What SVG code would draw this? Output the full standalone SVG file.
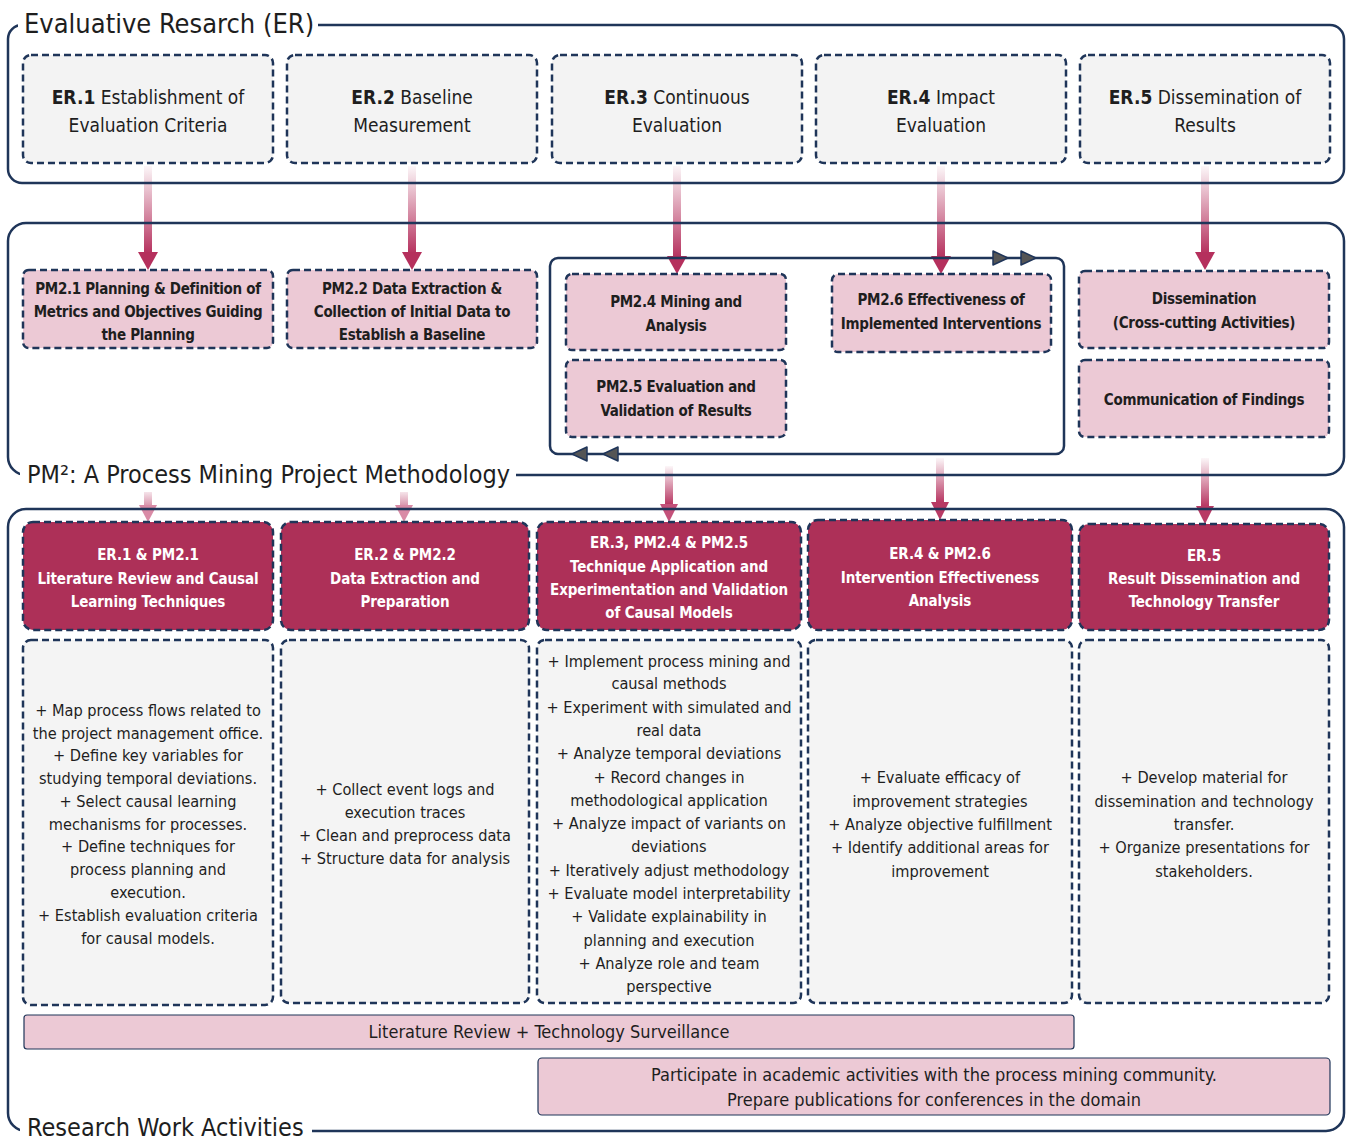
<svg xmlns="http://www.w3.org/2000/svg" width="1349" height="1140" viewBox="0 0 1349 1140">
<style>
text{font-family:"Liberation Sans Narrow","DejaVu Sans Condensed",Roboto,sans-serif;font-stretch:condensed;fill:#1e1e1e;text-anchor:middle}
.title{font-size:27px;text-anchor:start}
.title2{font-size:25px;text-anchor:start}
.frame{fill:none;stroke:#1f3559;stroke-width:2.5}
.box{stroke:#1f3559;stroke-width:2.5;stroke-dasharray:7 4}
.er{fill:#f3f3f3}
.pm{fill:#ecc9d5}
.hd{fill:#ad3058}
.dt{fill:#f4f4f4}
.bar{fill:#ecc9d5;stroke:#1f3559;stroke-width:1.2}
.t21{font-size:19px}
.pmt{font-size:15px;font-weight:bold;letter-spacing:-0.3px}
.hdt{font-size:15px;font-weight:bold;fill:#ffffff;letter-spacing:-0.1px}
.dtt{font-size:16.2px}
.bt{font-size:18px}
.b{font-weight:bold}
.tri{fill:#555555;stroke:#1f3559;stroke-width:1.5;stroke-linejoin:round}
</style>
<defs>
<linearGradient id="fade" x1="0" y1="0" x2="0" y2="1">
<stop offset="0" stop-color="#b5305d" stop-opacity="0.04"/>
<stop offset="1" stop-color="#b5305d" stop-opacity="1"/>
</linearGradient>
<linearGradient id="fadeL" x1="0" y1="0" x2="0" y2="1">
<stop offset="0" stop-color="#b5305d" stop-opacity="0.02"/>
<stop offset="1" stop-color="#b5305d" stop-opacity="0.55"/>
</linearGradient>
</defs>
<rect width="1349" height="1140" fill="#ffffff"/>

<g id="connectors">
<rect x="144" y="166" width="8" height="88" fill="url(#fade)"/><polygon points="138,252 158,252 148,270" fill="#b5305d"/>
<rect x="408" y="166" width="8" height="88" fill="url(#fade)"/><polygon points="402,252 422,252 412,270" fill="#b5305d"/>
<rect x="673" y="166" width="8" height="92" fill="url(#fade)"/><polygon points="667,256 687,256 677,274" fill="#b5305d"/>
<rect x="937" y="166" width="8" height="92" fill="url(#fade)"/><polygon points="931,256 951,256 941,274" fill="#b5305d"/>
<rect x="1201" y="166" width="8" height="88" fill="url(#fade)"/><polygon points="1195,252 1215,252 1205,270" fill="#b5305d"/>

<rect x="144" y="488" width="8" height="19" fill="url(#fadeL)"/><polygon points="139,505 157,505 148,522" fill="#d98ba6"/>
<rect x="400" y="488" width="8" height="19" fill="url(#fadeL)"/><polygon points="395,505 413,505 404,522" fill="#d98ba6"/>
<rect x="665" y="466" width="8" height="40" fill="url(#fade)"/><polygon points="660,504 678,504 669,522" fill="#c4517a"/>
<rect x="936" y="458" width="8" height="46" fill="url(#fade)"/><polygon points="931,502 949,502 940,520" fill="#b83a64"/>
<rect x="1201" y="458" width="8" height="50" fill="url(#fade)"/><polygon points="1196,506 1214,506 1205,524" fill="#b83a64"/>

<rect x="550" y="258" width="514" height="196" rx="8" class="frame"/>
<polygon class="tri" points="993,251 993,265 1008,258"/>
<polygon class="tri" points="1021,251 1021,265 1036,258"/>
<polygon class="tri" points="587,447 587,461 572,454"/>
<polygon class="tri" points="618,447 618,461 603,454"/>
</g>

<g id="frames">
<rect x="8" y="25" width="1336" height="158" rx="14" class="frame"/>
<rect x="18" y="6" width="300" height="36" fill="#ffffff"/>
<text class="title" x="24" y="33">Evaluative Resarch (ER)</text>
<rect x="8" y="223" width="1336" height="252" rx="18" class="frame"/>
<rect x="20" y="458" width="496" height="34" fill="#ffffff"/>
<text class="title2" x="27" y="483">PM²: A Process Mining Project Methodology</text>
<rect x="8" y="509" width="1336" height="622" rx="18" class="frame"/>
<rect x="20" y="1114" width="292" height="26" fill="#ffffff"/>
<text class="title2" x="27" y="1136">Research Work Activities</text>
</g>

<g id="er1"><rect x="23" y="55" width="250" height="108" rx="8" class="box er"/><text class="t21" x="148" y="104"><tspan class="b">ER.1</tspan> Establishment of</text><text class="t21" x="148" y="132">Evaluation Criteria</text></g>
<g id="er2"><rect x="287" y="55" width="250" height="108" rx="8" class="box er"/><text class="t21" x="412" y="104"><tspan class="b">ER.2</tspan> Baseline</text><text class="t21" x="412" y="132">Measurement</text></g>
<g id="er3"><rect x="552" y="55" width="250" height="108" rx="8" class="box er"/><text class="t21" x="677" y="104"><tspan class="b">ER.3</tspan> Continuous</text><text class="t21" x="677" y="132">Evaluation</text></g>
<g id="er4"><rect x="816" y="55" width="250" height="108" rx="8" class="box er"/><text class="t21" x="941" y="104"><tspan class="b">ER.4</tspan> Impact</text><text class="t21" x="941" y="132">Evaluation</text></g>
<g id="er5"><rect x="1080" y="55" width="250" height="108" rx="8" class="box er"/><text class="t21" x="1205" y="104"><tspan class="b">ER.5</tspan> Dissemination of</text><text class="t21" x="1205" y="132">Results</text></g>

<g id="pm21"><rect x="23" y="270" width="250" height="78" rx="6" class="box pm"/><text class="pmt" x="148" y="294">PM2.1 Planning &amp; Definition of</text><text class="pmt" x="148" y="317">Metrics and Objectives Guiding</text><text class="pmt" x="148" y="340">the Planning</text></g>
<g id="pm22"><rect x="287" y="270" width="250" height="78" rx="6" class="box pm"/><text class="pmt" x="412" y="294">PM2.2 Data Extraction &amp;</text><text class="pmt" x="412" y="317">Collection of Initial Data to</text><text class="pmt" x="412" y="340">Establish a Baseline</text></g>
<g id="pm24"><rect x="566" y="274" width="220" height="76" rx="6" class="box pm"/><text class="pmt" x="676" y="307">PM2.4 Mining and</text><text class="pmt" x="676" y="331">Analysis</text></g>
<g id="pm25"><rect x="566" y="360" width="220" height="77" rx="6" class="box pm"/><text class="pmt" x="676" y="392">PM2.5 Evaluation and</text><text class="pmt" x="676" y="416">Validation of Results</text></g>
<g id="pm26"><rect x="832" y="274" width="219" height="78" rx="6" class="box pm"/><text class="pmt" x="941" y="305">PM2.6 Effectiveness of</text><text class="pmt" x="941" y="329">Implemented Interventions</text></g>
<g id="diss"><rect x="1079" y="271" width="250" height="77" rx="6" class="box pm"/><text class="pmt" x="1204" y="304">Dissemination</text><text class="pmt" x="1204" y="328">(Cross-cutting Activities)</text></g>
<g id="comm"><rect x="1079" y="360" width="250" height="77" rx="6" class="box pm"/><text class="pmt" x="1204" y="405">Communication of Findings</text></g>

<g id="h1"><rect x="23" y="522" width="250" height="108" rx="10" class="box hd"/><text class="hdt" x="148" y="560">ER.1 &amp; PM2.1</text><text class="hdt" x="148" y="584">Literature Review and  Causal</text><text class="hdt" x="148" y="607">Learning Techniques</text></g>
<g id="h2"><rect x="281" y="522" width="248" height="108" rx="10" class="box hd"/><text class="hdt" x="405" y="560">ER.2 &amp; PM2.2</text><text class="hdt" x="405" y="584">Data Extraction and</text><text class="hdt" x="405" y="607">Preparation</text></g>
<g id="h3"><rect x="537" y="522" width="264" height="108" rx="10" class="box hd"/><text class="hdt" x="669" y="548">ER.3, PM2.4 &amp; PM2.5</text><text class="hdt" x="669" y="572">Technique Application and</text><text class="hdt" x="669" y="595">Experimentation and Validation</text><text class="hdt" x="669" y="618">of Causal Models</text></g>
<g id="h4"><rect x="808" y="520" width="264" height="110" rx="10" class="box hd"/><text class="hdt" x="940" y="559">ER.4 &amp; PM2.6</text><text class="hdt" x="940" y="583">Intervention Effectiveness</text><text class="hdt" x="940" y="606">Analysis</text></g>
<g id="h5"><rect x="1079" y="524" width="250" height="106" rx="10" class="box hd"/><text class="hdt" x="1204" y="561">ER.5</text><text class="hdt" x="1204" y="584">Result Dissemination and</text><text class="hdt" x="1204" y="607">Technology Transfer</text></g>

<g id="d1"><rect x="23" y="640" width="250" height="365" rx="8" class="box dt"/>
<text class="dtt" x="148" y="716">+ Map process flows related to</text>
<text class="dtt" x="148" y="739">the project management office.</text>
<text class="dtt" x="148" y="761">+ Define key variables for</text>
<text class="dtt" x="148" y="784">studying temporal deviations.</text>
<text class="dtt" x="148" y="807">+ Select causal learning</text>
<text class="dtt" x="148" y="830">mechanisms for processes.</text>
<text class="dtt" x="148" y="852">+ Define techniques for</text>
<text class="dtt" x="148" y="875">process planning and</text>
<text class="dtt" x="148" y="898">execution.</text>
<text class="dtt" x="148" y="921">+ Establish evaluation criteria</text>
<text class="dtt" x="148" y="944">for causal models.</text></g>
<g id="d2"><rect x="281" y="640" width="248" height="363" rx="8" class="box dt"/>
<text class="dtt" x="405" y="795">+ Collect event logs and</text>
<text class="dtt" x="405" y="818">execution traces</text>
<text class="dtt" x="405" y="841">+ Clean and preprocess data</text>
<text class="dtt" x="405" y="864">+ Structure data for analysis</text></g>
<g id="d3"><rect x="537" y="640" width="264" height="363" rx="8" class="box dt"/>
<text class="dtt" x="669" y="667">+ Implement process mining and</text>
<text class="dtt" x="669" y="689">causal methods</text>
<text class="dtt" x="669" y="713">+ Experiment with simulated and</text>
<text class="dtt" x="669" y="736">real data</text>
<text class="dtt" x="669" y="759">+ Analyze temporal deviations</text>
<text class="dtt" x="669" y="783">+ Record changes in</text>
<text class="dtt" x="669" y="806">methodological application</text>
<text class="dtt" x="669" y="829">+ Analyze impact of variants on</text>
<text class="dtt" x="669" y="852">deviations</text>
<text class="dtt" x="669" y="876">+ Iteratively adjust methodology</text>
<text class="dtt" x="669" y="899">+ Evaluate model interpretability</text>
<text class="dtt" x="669" y="922">+ Validate explainability in</text>
<text class="dtt" x="669" y="946">planning and execution</text>
<text class="dtt" x="669" y="969">+ Analyze role and team</text>
<text class="dtt" x="669" y="992">perspective</text></g>
<g id="d4"><rect x="808" y="640" width="264" height="363" rx="8" class="box dt"/>
<text class="dtt" x="940" y="783">+ Evaluate efficacy of</text>
<text class="dtt" x="940" y="807">improvement strategies</text>
<text class="dtt" x="940" y="830">+ Analyze objective fulfillment</text>
<text class="dtt" x="940" y="853">+ Identify additional areas for</text>
<text class="dtt" x="940" y="877">improvement</text></g>
<g id="d5"><rect x="1079" y="640" width="250" height="363" rx="8" class="box dt"/>
<text class="dtt" x="1204" y="783">+ Develop material for</text>
<text class="dtt" x="1204" y="807">dissemination and technology</text>
<text class="dtt" x="1204" y="830">transfer.</text>
<text class="dtt" x="1204" y="853">+ Organize presentations for</text>
<text class="dtt" x="1204" y="877">stakeholders.</text></g>

<g id="litbar"><rect x="24" y="1015" width="1050" height="34" rx="3" class="bar"/><text class="bt" x="549" y="1038">Literature Review + Technology Surveillance</text></g>
<g id="partbar"><rect x="538" y="1058" width="792" height="57" rx="4" class="bar"/><text class="bt" x="934" y="1081">Participate in academic activities with the process mining community.</text><text class="bt" x="934" y="1106">Prepare publications for conferences in the domain</text></g>
</svg>
